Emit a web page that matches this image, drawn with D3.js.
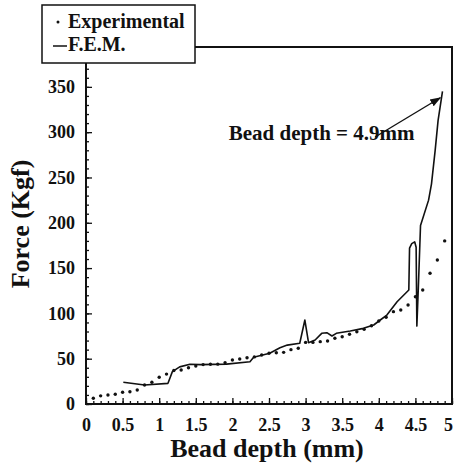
<!DOCTYPE html>
<html>
<head>
<meta charset="utf-8">
<script src="https://cdn.jsdelivr.net/npm/d3@7"></script>
<style>
  body { margin: 0; background: #fff; }
  svg text { font-family: "Liberation Serif", "Times New Roman", serif; font-weight: bold; fill: #111; }
</style>
</head>
<body>
<div id="container"></div>
<script>
/* DATA */
// experimental points (bead depth mm, force kgf)
const expDepth = [0.1, 0.2, 0.3, 0.4, 0.5, 0.6, 0.7, 0.8, 0.9, 1.0,
  1.1, 1.2, 1.3, 1.4, 1.5, 1.6, 1.7, 1.8, 1.9, 2.0,
  2.1, 2.2, 2.3, 2.4, 2.5, 2.6, 2.7, 2.8, 2.9, 3.0,
  3.1, 3.2, 3.3, 3.4, 3.5, 3.6, 3.7, 3.8, 3.9, 4.0,
  4.1, 4.2, 4.3, 4.4, 4.5, 4.6, 4.7, 4.8, 4.9];
const expForce = [6.3, 9, 10, 10.7, 13, 13.6, 15.5, 21, 24, 29.5,
  33, 37, 37.5, 40, 42, 43.5, 43.8, 44, 45.6, 48.6,
  49.7, 51, 52, 54, 56, 56.5, 57, 60, 61.5, 68,
  68, 68.8, 69.5, 72.5, 74.3, 77, 79.8, 82.4, 86.4, 91.6,
  95.7, 101.9, 103.8, 109.3, 118.4, 125.8, 144.3, 159, 180];

// F.E.M. curve
const femDepth = [0.51, 0.8, 1.12, 1.18, 1.28, 1.42, 1.56, 1.92, 2.24, 2.29,
  2.51, 2.65, 2.75, 2.92, 2.99, 3.04, 3.13, 3.22, 3.29, 3.36,
  3.42, 3.61, 3.79, 3.93, 4.02, 4.11, 4.25, 4.41, 4.42, 4.45,
  4.49, 4.51, 4.52, 4.54, 4.57, 4.68, 4.72, 4.77, 4.81, 4.87];
const femForce = [24, 21, 22.8, 35.7, 41, 43.8, 43.5, 44, 46.7, 51.5,
  56, 62, 65, 67, 92.7, 67.7, 70.6, 78, 78.7, 75,
  78, 80.6, 83.5, 87.2, 92.7, 98.2, 112.9, 125.8, 172, 177,
  179, 173, 86, 128, 197, 225, 243, 280, 313, 345];

const xTicks = [0, 0.5, 1, 1.5, 2, 2.5, 3, 3.5, 4, 4.5, 5];
const xTickLabels = ["0", "0.5", "1", "1.5", "2", "2.5", "3", "3.5", "4", "4.5", "5"];
const yTicks = [0, 50, 100, 150, 200, 250, 300, 350];

/* CONSTANTS */
const width = 455, height = 476;
const margin = {top: 47, right: 3, bottom: 72, left: 86};

const svg = d3.select("#container")
  .append("svg")
  .attr("width", width)
  .attr("height", height);

// SCALES
const xScale = d3.scaleLinear()
  .domain([0, 5])
  .range([margin.left, width - margin.right]);

const yScale = d3.scaleLinear()
  .domain([0, 394])
  .range([height - margin.bottom, margin.top]);

// FRAME
svg.append("rect")
  .attr("x", xScale(0))
  .attr("y", yScale(394))
  .attr("width", xScale(5) - xScale(0))
  .attr("height", yScale(0) - yScale(394))
  .attr("fill", "none")
  .attr("stroke", "#111")
  .attr("stroke-width", 2);

// AXES (ticks point inward)
const xMinor = d3.range(0, 5.001, 0.1);
const yMinor = d3.range(0, 391, 10);

svg.append("g")
  .attr("transform", `translate(0,${yScale(0)})`)
  .call(d3.axisBottom(xScale).tickValues(xMinor).tickSize(-3).tickFormat(""))
  .call(g => g.select(".domain").remove());

svg.append("g")
  .attr("transform", `translate(${xScale(0)},0)`)
  .call(d3.axisLeft(yScale).tickValues(yMinor).tickSize(-3).tickFormat(""))
  .call(g => g.select(".domain").remove());

const xAxis = svg.append("g")
  .attr("transform", `translate(0,${yScale(0)})`)
  .call(d3.axisBottom(xScale).tickValues(xTicks).tickSize(-6).tickPadding(14)
    .tickFormat((d, i) => xTickLabels[i]))
  .call(g => g.select(".domain").remove());

// last label sits at the page edge
xAxis.selectAll(".tick text").filter(d => d === 5).attr("dx", -4);

const yAxis = svg.append("g")
  .attr("transform", `translate(${xScale(0)},0)`)
  .call(d3.axisLeft(yScale).tickValues(yTicks).tickSize(-6).tickPadding(11))
  .call(g => g.select(".domain").remove());

svg.selectAll(".tick line").attr("stroke", "#111").attr("stroke-width", 1.3);
svg.selectAll(".tick text")
  .attr("font-family", "Liberation Serif, Times New Roman, serif")
  .attr("font-weight", "bold")
  .attr("font-size", 18)
  .attr("fill", "#111");

// F.E.M. LINE
const femData = femDepth.map((d, i) => ({depth: d, force: femForce[i]}));
const lineGen = d3.line()
  .x(d => xScale(d.depth))
  .y(d => yScale(d.force));

svg.append("path")
  .datum(femData)
  .attr("fill", "none")
  .attr("stroke", "#111")
  .attr("stroke-width", 1.6)
  .attr("stroke-linejoin", "round")
  .attr("d", lineGen);

// EXPERIMENTAL DOTS
const expData = expDepth.map((d, i) => ({depth: d, force: expForce[i]}));
svg.selectAll("circle.exp")
  .data(expData)
  .join("circle")
  .attr("class", "exp")
  .attr("cx", d => xScale(d.depth))
  .attr("cy", d => yScale(d.force))
  .attr("r", 1.7)
  .attr("fill", "#111");

// ANNOTATION
svg.append("defs").append("marker")
  .attr("id", "arrow")
  .attr("viewBox", "0 0 10 10")
  .attr("refX", 9).attr("refY", 5)
  .attr("markerWidth", 8).attr("markerHeight", 8)
  .attr("orient", "auto")
  .append("path")
  .attr("d", "M0,1.5 L10,5 L0,8.5 z")
  .attr("fill", "#111");

svg.append("line")
  .attr("x1", xScale(3.95)).attr("y1", yScale(294.7))
  .attr("x2", xScale(4.84)).attr("y2", yScale(338))
  .attr("stroke", "#111")
  .attr("stroke-width", 1.4)
  .attr("marker-end", "url(#arrow)");

svg.append("text")
  .attr("x", xScale(1.95))
  .attr("y", yScale(291))
  .attr("font-size", 21)
  .text("Bead depth = 4.9mm");

// AXIS TITLES
svg.append("text")
  .attr("x", 267)
  .attr("y", 457)
  .attr("text-anchor", "middle")
  .attr("font-size", 26)
  .text("Bead depth (mm)");

svg.append("text")
  .attr("transform", "translate(29,224) rotate(-90)")
  .attr("text-anchor", "middle")
  .attr("font-size", 26)
  .text("Force (Kgf)");

// LEGEND
const legend = svg.append("g");
legend.append("rect")
  .attr("x", 42).attr("y", 5)
  .attr("width", 153).attr("height", 58)
  .attr("fill", "#fff")
  .attr("stroke", "#111")
  .attr("stroke-width", 1.5);

legend.append("circle")
  .attr("cx", 58).attr("cy", 22)
  .attr("r", 1.5)
  .attr("fill", "#111");

legend.append("text")
  .attr("x", 68).attr("y", 28)
  .attr("font-size", 20)
  .text("Experimental");

legend.append("line")
  .attr("x1", 53).attr("x2", 67)
  .attr("y1", 46).attr("y2", 46)
  .attr("stroke", "#111")
  .attr("stroke-width", 1.5);

legend.append("text")
  .attr("x", 68).attr("y", 51)
  .attr("font-size", 20)
  .text("F.E.M.");
</script>
</body>
</html>
